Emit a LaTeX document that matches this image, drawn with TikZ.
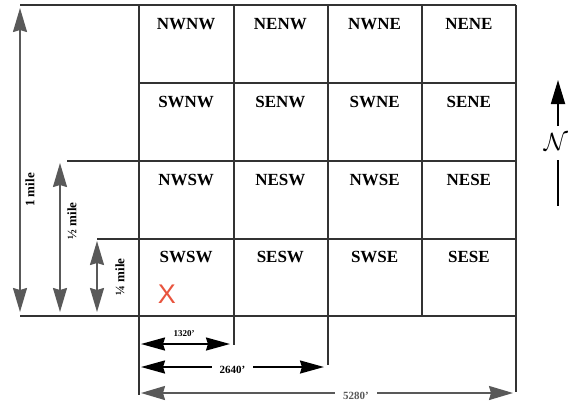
\documentclass[tikz,border=0pt]{standalone}
\usepackage{fontspec}
\setmainfont{Liberation Serif}
\newfontfamily\xfont{Liberation Sans}
\usetikzlibrary{arrows.meta}
\usetikzlibrary{positioning}
\definecolor{xred}{RGB}{232,84,62}

\begin{document}
\begin{tikzpicture}[x=1pt, y=-1pt,
	gridline/.style={line width=1.6pt, black!80},
	milearrow/.style={line width=1.8pt, black!65, {Stealth[length=24pt, width=14pt, inset=2pt]}-{Stealth[length=24pt, width=14pt, inset=2pt]}},
	ftarrow/.style={line width=2pt, black, {Stealth[length=24pt, width=13pt, inset=2pt]}-{Stealth[length=24pt, width=13pt, inset=2pt]}},
	celllabel/.style={font=\fontsize{17}{17}\selectfont\bfseries, inner sep=0pt},
	milelabel/.style={font=\fontsize{13}{13}\selectfont\bfseries, rotate=90, inner sep=0pt},
	ftlabel/.style={fill=white, inner ysep=1pt, inner xsep=8pt}]
	\useasboundingbox (0,0) rectangle (573,402);
	% grid of quarter-quarter sections
	\draw[gridline] (20,5)--(516,5);
	\draw[gridline] (139,83)--(516,83);
	\draw[gridline] (67,161)--(516,161);
	\draw[gridline] (97,239)--(516,239);
	\draw[gridline] (20,316)--(516,316);
	\draw[gridline] (139,5)--(139,395);
	\draw[gridline] (234,5)--(234,345);
	\draw[gridline] (328,5)--(328,365);
	\draw[gridline] (422,5)--(422,316);
	\draw[gridline] (516,5)--(516,392);
	\foreach \lbl [count=\k from 0] in {NWNW,NENW,NWNE,NENE,SWNW,SENW,SWNE,SENE,NWSW,NESW,NWSE,NESE,SWSW,SESW,SWSE,SESE}
		\node[celllabel] (\lbl) at ({139+94.25*(mod(\k,4)+0.5)}, {5+77.75*int(\k/4)+19}) {\lbl};
	\node[text=xred, font=\xfont\fontsize{27}{27}\selectfont, inner sep=0pt] (mark) at (167,294) {X};
	% mile arrows
	\coordinate (m1a) at (20,8);
	\coordinate (m1b) at (20,312);
	\coordinate (m2a) at (60,163);
	\coordinate (m2b) at (60,312);
	\coordinate (m4a) at (97,241);
	\coordinate (m4b) at (97,312);
	\draw[milearrow] (m1a)--(m1b);
	\draw[milearrow] (m2a)--(m2b);
	\draw[milearrow] (m4a)--(m4b);
	\node[milelabel] (onemile) at (30,190) {1 mile};
	\node[milelabel] (halfmile) at (72,221) {½ mile};
	\node[milelabel] (qtrmile) at (120,277) {¼ mile};
	% feet arrows
	\coordinate (f1a) at (141,344);
	\coordinate (f1b) at (230,344);
	\coordinate (f2a) at (141,367);
	\coordinate (f2b) at (324,367);
	\coordinate (f3a) at (141,393);
	\coordinate (f3b) at (513,393);
	\draw[ftarrow] (f1a)--(f1b);
	\node[font=\fontsize{9}{9}\selectfont\bfseries, inner sep=0pt] (ft1320) at (184,334) {1320'};
	\draw[ftarrow] (f2a)-- node[ftlabel, font=\fontsize{11}{11}\selectfont\bfseries, yshift=-3pt] (ft2640) {2640'} (f2b);
	\draw[milearrow] (f3a)-- node[ftlabel, font=\fontsize{11}{11}\selectfont\bfseries, xshift=29pt, yshift=-3pt] (ft5280) {5280'} (f3b);
	% north arrow
	\coordinate (nbot) at (558,126);
	\coordinate (ntop) at (558,80);
	\draw[line width=1.8pt, -{Triangle[length=24pt, width=14pt]}] (nbot)--(ntop);
	\node[font=\fontsize{26}{26}\selectfont, inner sep=0pt] (north) at (556,142) {$\mathcal{N}$};
	\draw[line width=1.8pt] (558,160)--(558,206);
\end{tikzpicture}
\end{document}
